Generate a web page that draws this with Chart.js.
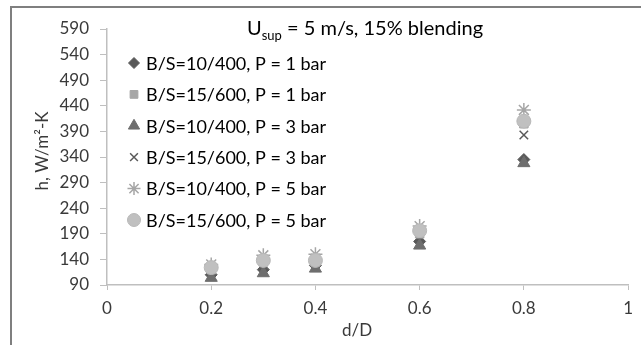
<!DOCTYPE html>
<html>
<head>
<meta charset="utf-8">
<script src="https://cdn.jsdelivr.net/npm/chart.js@4/dist/chart.umd.min.js"></script>
<style>
  html, body { margin: 0; padding: 0; background: #fff; }
  #wrap { position: relative; width: 641px; height: 345px; }
</style>
</head>
<body>
<div id="wrap"><canvas id="chart" width="641" height="345"></canvas></div>
<script>
// d/D positions
const dD = [0.2, 0.3, 0.4, 0.6, 0.8];

// h values, W/m2-K
const bs10p1 = [110, 120, 128, 175, 335];
const bs15p1 = [120, 135, 135, 190, 405];
const bs10p3 = [104, 113, 122, 167, 328];
const bs15p3 = [122, 140, 142, 195, 383];
const bs10p5 = [130, 148, 150, 205, 432];
const bs15p5 = [124, 138, 138, 196, 410];

const seriesLabels = [
    'B/S=10/400, P = 1 bar',
    'B/S=15/600, P = 1 bar',
    'B/S=10/400, P = 3 bar',
    'B/S=15/600, P = 3 bar',
    'B/S=10/400, P = 5 bar',
    'B/S=15/600, P = 5 bar'
];
const seriesValues = [bs10p1, bs15p1, bs10p3, bs15p3, bs10p5, bs15p5];

const FONT = 'Lato, sans-serif';
const TEXT = '#3a3a3a';

// marker look for each series
const markers = [
    { style: 'rectRot', radius: 6, fill: '#595959', stroke: '#595959', width: 1 },
    { style: 'rect', radius: 6, fill: '#a6a6a6', stroke: '#a6a6a6', width: 1 },
    { style: 'triangle', radius: 7, fill: '#6e6e6e', stroke: '#6e6e6e', width: 1 },
    { style: 'crossRot', radius: 6, fill: '#5a5a5a', stroke: '#5a5a5a', width: 1.5 },
    { style: 'star', radius: 7, fill: '#a6a6a6', stroke: '#a6a6a6', width: 1.5 },
    { style: 'circle', radius: 7, fill: '#c0c0c0', stroke: '#b8b8b8', width: 1 }
];

const datasets = seriesValues.map((vals, i) => ({
    label: seriesLabels[i],
    data: vals.map((v, j) => ({ x: dD[j], y: v })),
    pointStyle: markers[i].style,
    pointRadius: markers[i].radius,
    pointBackgroundColor: markers[i].fill,
    pointBorderColor: markers[i].stroke,
    pointBorderWidth: markers[i].width,
    showLine: false,
    order: seriesValues.length - i
}));

// frame, titles and in-plot legend
const decorations = {
    id: 'decorations',
    beforeDraw(chart) {
        const ctx = chart.ctx;
        ctx.save();
        ctx.strokeStyle = '#7f7f7f';
        ctx.lineWidth = 2;
        ctx.beginPath();
        ctx.moveTo(11, 345);
        ctx.lineTo(11, 7);
        ctx.lineTo(641, 7);
        ctx.stroke();
        ctx.restore();
    },
    afterDraw(chart) {
        const ctx = chart.ctx;
        ctx.save();
        ctx.fillStyle = '#000';
        ctx.textBaseline = 'alphabetic';
        // title with subscript
        let x = 247;
        const y = 35;
        ctx.font = '20px ' + FONT;
        ctx.fillText('U', x, y);
        x += ctx.measureText('U').width;
        ctx.font = '13px ' + FONT;
        ctx.fillText('sup', x, y + 5);
        x += ctx.measureText('sup').width;
        ctx.font = '20px ' + FONT;
        ctx.fillText(' = 5 m/s, 15% blending', x, y);

        // axis titles
        ctx.fillStyle = TEXT;
        ctx.font = '17px ' + FONT;
        ctx.textAlign = 'center';
        ctx.textBaseline = 'middle';
        ctx.fillText('d/D', 357, 331);
        ctx.translate(43, 151);
        ctx.rotate(-Math.PI / 2);
        ctx.fillText('h, W/m²-K', 0, 0);
        ctx.setTransform(1, 0, 0, 1, 0, 0);

        // legend
        ctx.textAlign = 'left';
        ctx.font = '18px ' + FONT;
        seriesLabels.forEach((lab, i) => {
            const ly = 63 + i * 31.4;
            const m = markers[i];
            ctx.fillStyle = m.fill;
            ctx.strokeStyle = m.stroke;
            ctx.lineWidth = m.width;
            Chart.helpers.drawPoint(ctx, { pointStyle: m.style, radius: m.radius - 0.5, rotation: 0, borderWidth: m.width }, 134, ly);
            ctx.fillStyle = '#000';
            ctx.fillText(lab, 146, ly + 1);
        });
        ctx.restore();
    }
};

new Chart(document.getElementById('chart'), {
    type: 'scatter',
    data: { datasets },
    plugins: [decorations],
    options: {
        responsive: false,
        animation: false,
        layout: { padding: { top: 29, right: 8, left: 0, bottom: 0 } },
        plugins: {
            legend: { display: false },
            tooltip: { enabled: false }
        },
        scales: {
            x: {
                type: 'linear',
                min: 0,
                max: 1,
                ticks: {
                    stepSize: 0.2,
                    color: TEXT,
                    font: { family: FONT, size: 17 },
                    padding: 8,
                    maxRotation: 0,
                    callback: v => String(+v.toFixed(1))
                },
                grid: { drawOnChartArea: false, drawTicks: true, tickLength: 5, color: '#bfbfbf' },
                border: { color: '#bfbfbf', width: 1.5 },
                afterFit(scale) { scale.height = 60; }
            },
            y: {
                type: 'linear',
                min: 90,
                max: 590,
                ticks: { stepSize: 50, color: TEXT, font: { family: FONT, size: 17 }, padding: 11 },
                grid: { drawOnChartArea: false, drawTicks: true, tickLength: 7, color: '#bfbfbf' },
                border: { color: '#bfbfbf', width: 1.5 },
                afterFit(scale) { scale.width = 107; }
            }
        }
    }
});
</script>
</body>
</html>
